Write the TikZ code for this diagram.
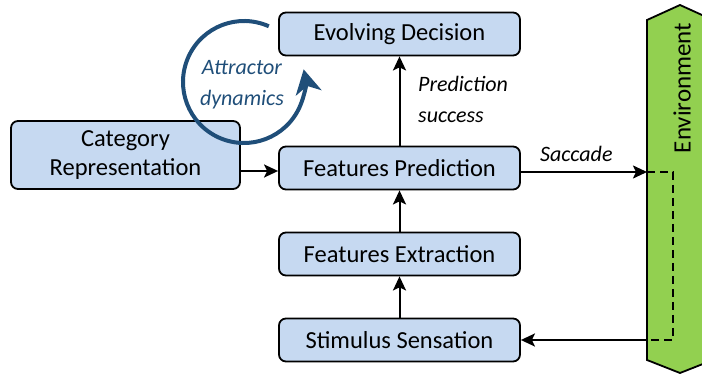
\documentclass[tikz,border=0pt]{standalone}
\usepackage{fontspec}
\setmainfont{Carlito}
\usetikzlibrary{arrows.meta}
\definecolor{boxfill}{HTML}{C6D9F1}
\definecolor{envfill}{HTML}{92D050}
\definecolor{attr}{HTML}{1F4E79}
\begin{document}
\begin{tikzpicture}[x=1pt,y=1pt,
  box/.style={draw=black, line width=1.8pt, fill=boxfill, rounded corners=7pt,
    minimum width=241pt, minimum height=43pt, inner sep=0pt, align=center,
    font=\fontsize{24.5}{29}\selectfont},
  conn/.style={line width=2pt, -{Stealth[length=14pt,width=13pt,inset=3pt]}},
  lab/.style={font=\fontsize{22}{31}\selectfont\itshape, inner sep=0pt, align=left},
  ]
\useasboundingbox (0,0) rectangle (702,-374);
\begin{scope}
\clip (0,0) rectangle (702,-374);
\draw[line width=1.8pt, fill=envfill] (647,-20) -- (680,-5) -- (713,-20) -- (713,-360) -- (680,-373) -- (647,-360) -- cycle;
\end{scope}
\node[rotate=90, font=\fontsize{25}{30}\selectfont, inner sep=0pt] (env) at (682,-88) {Environment};
\coordinate (envin) at (647,-172);
\coordinate (envout) at (647,-340);
\coordinate (dashc) at (673,-256);

\node[box] (ed) at (399.5,-34) {Evolving Decision};
\node[box] (fp) at (399.5,-168) {Features Prediction};
\node[box] (fe) at (399.5,-254) {Features Extraction};
\node[box] (ss) at (399.5,-340) {Stimulus Sensation};
\node[box, minimum width=229pt, minimum height=68pt] (cr) at (125.5,-155) {Category\\Representation};

\draw[conn] (cr.east |- 0,-171) -- (fp.west |- 0,-171);
\draw[conn] (fp) -- (ed);
\draw[conn] (fe) -- (fp);
\draw[conn] (ss) -- (fe);
\draw[conn] (fp.east |- envin) -- (envin);
\draw[conn] (envout) -- (ss.east |- envout);
\draw[line width=1.8pt, dash pattern=on 8pt off 5pt] (envin) -| (dashc) |- (envout);

\node[lab, anchor=west] (ps) at (418,-99) {Prediction\\success};
\node[lab, anchor=south west] (sac) at (540,-162) {Saccade};

\draw[attr, line width=4pt, -{Stealth[length=24pt,width=26pt,inset=7pt]}]
  (244,-82) ++(66:61) arc[start angle=66, end angle=372, radius=61];
\node[lab, attr, align=center] (ad) at (242,-85) {Attractor\\dynamics};
\end{tikzpicture}
\end{document}
